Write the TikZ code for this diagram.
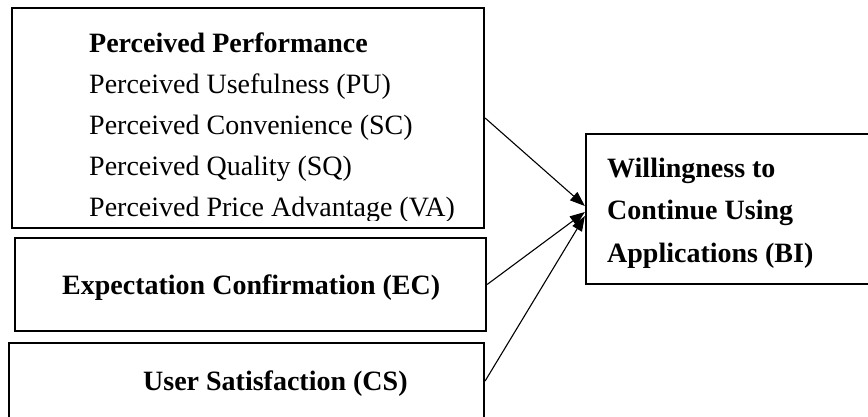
\documentclass[tikz,border=0pt]{standalone}
\usepackage{fontspec}
\setmainfont{Liberation Serif}
\usetikzlibrary{positioning, arrows.meta, calc}

\begin{document}
\begin{tikzpicture}[x=1pt, y=-1pt,
  box/.style={rectangle, draw, line width=2.2pt, inner sep=0pt},
  txt/.style={inner sep=0pt, align=left, font=\fontsize{28}{41}\selectfont},
  >={Triangle[length=15pt, width=11pt]}]
  \useasboundingbox (0,0) rectangle (868,416);

  % boxes
  \node[box, minimum width=472pt, minimum height=220pt] (pp) at (248,118) {};
  \node[box, minimum width=471pt, minimum height=93pt] (ec) at (250.5,284.5) {};
  \node[box, minimum width=475pt, minimum height=76pt] (cs) at (246.5,381) {};
  \node[box, minimum width=340pt, minimum height=150pt] (bi) at (756,209) {};

  % texts (base = last line)
  \begin{scope}
    \clip (pp.north west) rectangle ([yshift=8.5pt]pp.south east);
    \node[txt, anchor=base west] (pplabel) at (89,216) {\textbf{Perceived Performance}\\Perceived Usefulness (PU)\\Perceived Convenience (SC)\\Perceived Quality (SQ)\\Perceived Price Advantage (VA)};
  \end{scope}
  \node[txt, anchor=base west, font=\fontsize{28}{41}\selectfont\bfseries] (eclabel) at (62,294) {Expectation Confirmation (EC)};
  \node[txt, anchor=base west, font=\fontsize{28}{41}\selectfont\bfseries] (cslabel) at (143,390) {User Satisfaction (CS)};
  \node[txt, anchor=base west, font=\fontsize{28}{42.5}\selectfont\bfseries] (bilabel) at (607,262) {Willingness to\\Continue Using\\Applications (BI)};

  % links
  \draw[->, line width=1.1pt] (pp.east) -- ([yshift=3pt]bi.west);
  \draw[->, line width=1.1pt] (ec.east) -- ([yshift=-3pt]bi.west);
  \draw[->, line width=1.1pt] (cs.east) -- ([yshift=-7pt]bi.west);
\end{tikzpicture}
\end{document}
